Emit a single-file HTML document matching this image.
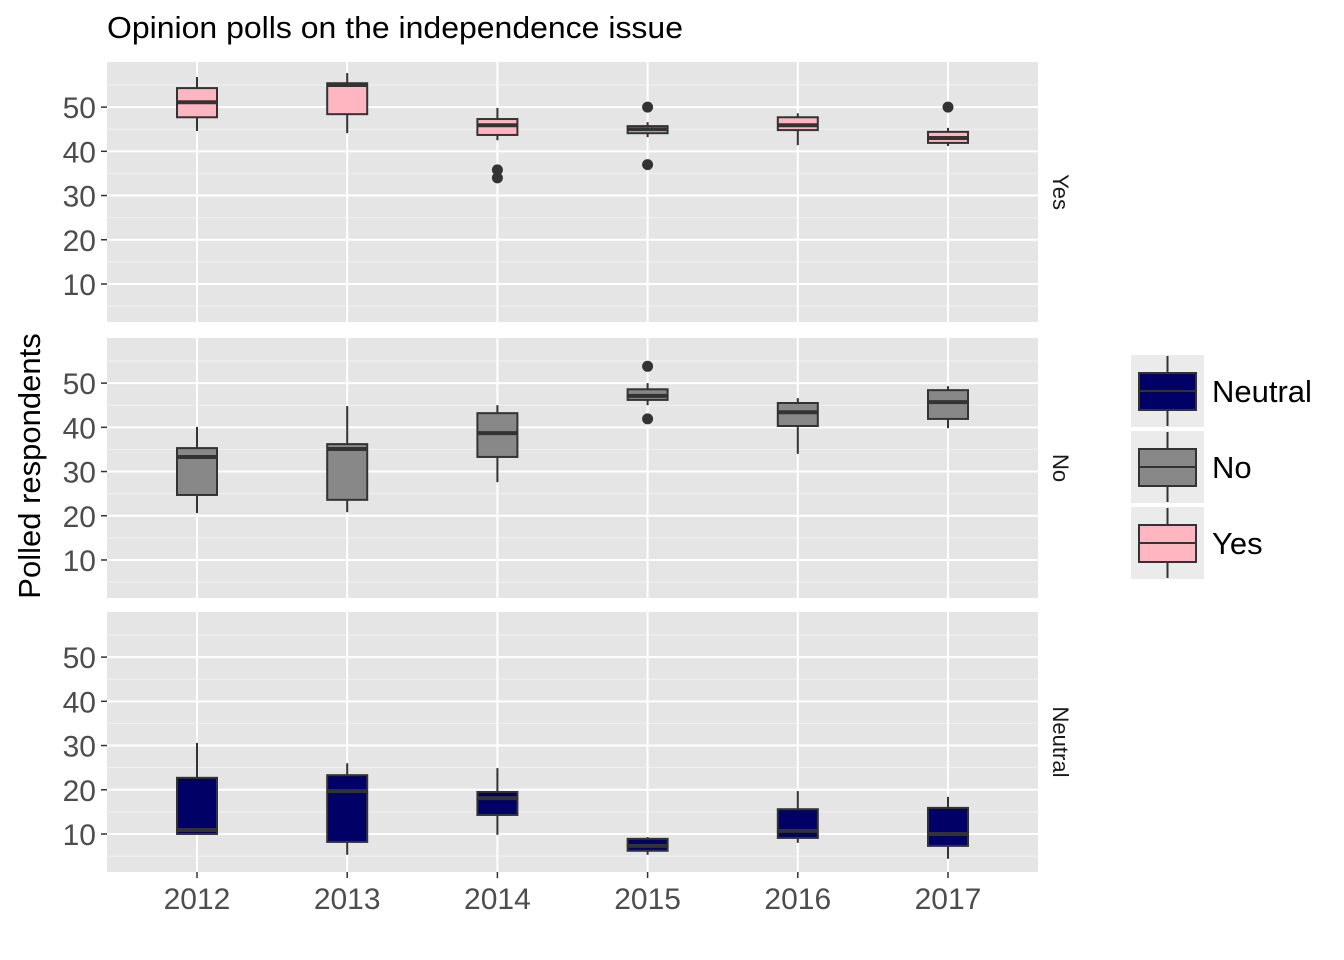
<!DOCTYPE html>
<html><head><meta charset="utf-8"><style>
body{margin:0;background:#fff;}
svg{display:block;font-family:"Liberation Sans",Arial,sans-serif;}
</style></head><body>
<svg id="chart" width="1344" height="960">
<text x="107" y="38" font-size="31" fill="#000" textLength="576" lengthAdjust="spacingAndGlyphs">Opinion polls on the independence issue</text>
<text transform="translate(40,466) rotate(-90)" text-anchor="middle" font-size="31" fill="#000">Polled respondents</text>
<g id="plot"></g>
<g id="legend"></g>
</svg>
<script>
const years = ['2012','2013','2014','2015','2016','2017'];
const facets = ['Yes','No','Neutral'];
const yTicks = [10,20,30,40,50];
// each box: [whiskerLow, q1, median, q3, whiskerHigh]
const yesBoxes = [[44.6,47.7,51.1,54.3,56.8],[44.1,48.4,55,55.4,57.7],[42.5,43.7,45.9,47.3,49.8],[43.2,44.1,45,45.7,46.6],[41.4,44.8,45.9,47.7,48.6],[41.2,41.9,43,44.4,45.3]];
const yesOutliers = [[],[],[35.8,34],[50,37],[],[50]];
const noBoxes = [[20.6,24.7,33.3,35.3,40.1],[20.8,23.6,35.1,36.2,44.8],[27.6,33.3,38.7,43.2,45],[45,46.2,47.1,48.6,50],[34,40.3,43.4,45.5,46.6],[39.8,41.9,45.7,48.4,49.3]];
const noOutliers = [[],[],[],[53.8,41.9],[],[]];
const neutralBoxes = [[10,10,10.9,22.7,30.6],[5.3,8.2,19.7,23.3,26],[9.8,14.3,18.1,19.5,24.9],[5.3,6.2,7.3,8.9,9.3],[8,9.1,10.7,15.6,19.7],[4.4,7.3,10,15.9,18.4]];
const neutralOutliers = [[],[],[],[],[],[]];
const fills = {Yes:'#FFB6C1',No:'#888888',Neutral:'#000066'};
const boxes = {Yes:yesBoxes,No:noBoxes,Neutral:neutralBoxes};
const outs = {Yes:yesOutliers,No:noOutliers,Neutral:neutralOutliers};

const NS='http://www.w3.org/2000/svg';
const plot=document.getElementById('plot');
function mk(tag,attrs,parent){const e=document.createElementNS(NS,tag);for(const k in attrs)e.setAttribute(k,attrs[k]);(parent||plot).appendChild(e);return e;}
const L=107,R=1038,panelTops=[62,338,612],panelH=260;
const vMin=1.4,vMax=60.2;
const x=i=>197+i*150.2;
facets.forEach((f,p)=>{
  const top=panelTops[p];
  const y=v=>top+panelH-(v-vMin)/(vMax-vMin)*panelH;
  const g=mk('g',{});
  
  
  mk('rect',{x:L,y:top,width:R-L,height:panelH,fill:'#e5e5e5'},g);
  for(let v=5;v<60;v+=10) mk('line',{x1:L,x2:R,y1:y(v),y2:y(v),stroke:'#f2f2f2','stroke-width':1},g);
  yTicks.forEach(v=>{
    mk('line',{x1:L,x2:R,y1:y(v),y2:y(v),stroke:'#fff','stroke-width':2},g);
    mk('line',{x1:L-6,x2:L,y1:y(v),y2:y(v),stroke:'#333','stroke-width':1.5},g);
    const t=mk('text',{x:L-11,y:y(v)+11,'text-anchor':'end','font-size':30,fill:'#4d4d4d'},g);t.textContent=v;
    
    
  });
  years.forEach((yr,i)=>mk('line',{x1:x(i),x2:x(i),y1:top,y2:top+panelH,stroke:'#fff','stroke-width':2},g));
  const st=mk('text',{transform:`translate(1053,${top+panelH/2}) rotate(90)`,'text-anchor':'middle','font-size':22,fill:'#1a1a1a'},g);st.textContent=f;
  
  
  boxes[f].forEach((b,i)=>{
    const bg=mk('g',{},g);
    
    
    const cx=x(i),w=20;
    mk('line',{x1:cx,x2:cx,y1:y(b[0]),y2:y(b[1]),stroke:'#333','stroke-width':2},bg);
    mk('line',{x1:cx,x2:cx,y1:y(b[3]),y2:y(b[4]),stroke:'#333','stroke-width':2},bg);
    mk('rect',{x:cx-w,y:y(b[3]),width:2*w,height:Math.max(0.5,y(b[1])-y(b[3])),fill:fills[f],stroke:'#333','stroke-width':2},bg);
    mk('line',{x1:cx-w,x2:cx+w,y1:y(b[2]),y2:y(b[2]),stroke:'#333','stroke-width':4},bg);
    outs[f][i].forEach(o=>{const c=mk('circle',{cx:cx,cy:y(o),r:5.5,fill:'#333'},bg);
      
      });
  });
});
const bot=panelTops[2]+panelH;
years.forEach((yr,i)=>{
  mk('line',{x1:x(i),x2:x(i),y1:bot,y2:bot+6,stroke:'#333','stroke-width':1.5});
  const t=mk('text',{x:x(i),y:bot+37,'text-anchor':'middle','font-size':30,fill:'#4d4d4d'});t.textContent=yr;
  
  
});
const lg=document.getElementById('legend');
['Neutral','No','Yes'].forEach((f,k)=>{
  const ty=355+k*76;
  const g=mk('g',{},lg);
  
  
  mk('rect',{x:1131,y:ty,width:73,height:72,fill:'#ebebeb'},g);
  mk('line',{x1:1167.5,x2:1167.5,y1:ty+1,y2:ty+71,stroke:'#333','stroke-width':2},g);
  mk('rect',{x:1139,y:ty+18,width:57,height:37,fill:fills[f],stroke:'#333','stroke-width':2},g);
  mk('line',{x1:1139,x2:1196,y1:ty+36,y2:ty+36,stroke:'#333','stroke-width':2},g);
  const t=mk('text',{x:1212,y:ty+47,'font-size':31,fill:'#000'},g);t.textContent=f;
});
</script>
</body></html>
